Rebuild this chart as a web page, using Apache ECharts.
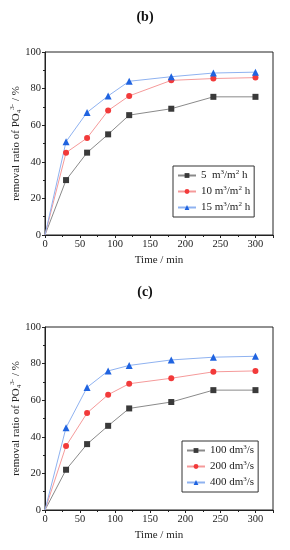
<!DOCTYPE html>
<html><head><meta charset="utf-8">
<script src="https://cdn.jsdelivr.net/npm/echarts@6/dist/echarts.min.js"></script>
<style>html,body{margin:0;padding:0;background:#fff}#c{width:290px;height:550px}</style>
</head><body><div id="c"></div>
<script>
var time = [0, 30, 60, 90, 120, 180, 240, 300];
var xTicks = [0, 50, 100, 150, 200, 250, 300];
var yTicks = [0, 20, 40, 60, 80, 100];
// panel (b)
var b5  = [0, 30, 45, 55, 65.5, 69, 75.5, 75.5];
var b10 = [0, 45, 53, 68, 76, 84.5, 85.5, 86];
var b15 = [0, 51, 67, 76, 84, 86.5, 88.5, 89];
var bNames = ['5  m{sup|3}/m{sup|2} h', '10 m{sup|3}/m{sup|2} h', '15 m{sup|3}/m{sup|2} h'];
// panel (c)
var c100 = [0, 22, 36, 46, 55.5, 59, 65.5, 65.5];
var c200 = [0, 35, 53, 63, 69, 72, 75.5, 76];
var c400 = [0, 45, 67, 76, 79, 82, 83.5, 84];
var cNames = ['100 dm{sup|3}/s', '200 dm{sup|3}/s', '400 dm{sup|3}/s'];

var FONT = 'Liberation Serif';
var markerCols = ['#3a3a3a', '#f23a3a', '#1f63e0'];
var lineCols = ['#8a8a8a', '#f59a9a', '#8fb2f0'];
var symbols = ['rect', 'circle', 'triangle'];

function pair(a, b) {
  return a.map(function (v, i) {
    var item = {value: [v, b[i]]};
    if (v === 0) item.symbolSize = 0;
    return item;
  });
}

var chart = echarts.init(document.getElementById('c'), null, {renderer: 'canvas'});

function xAxis(gi) {
  return {
    type: 'value', gridIndex: gi, min: 0, max: 325, interval: 50,
    name: 'Time / min', nameLocation: 'middle', nameGap: 20, nameMoveOverlap: false,
    nameTextStyle: {fontFamily: FONT, fontSize: 11, color: '#222'},
    axisLine: {show: true, lineStyle: {color: '#222', width: 1}},
    axisTick: {show: true, length: 3, lineStyle: {color: '#222'}},
    minorTick: {show: true, splitNumber: 2, length: 2, lineStyle: {color: '#222'}},
    axisLabel: {fontFamily: FONT, fontSize: 10.5, color: '#222', margin: 4, showMaxLabel: false,
      formatter: function (v) { return xTicks.indexOf(v) >= 0 ? String(v) : ''; }},
    splitLine: {show: false}
  };
}
function yAxis(gi) {
  return {
    type: 'value', gridIndex: gi, min: 0, max: 100, interval: 20,
    name: 'removal ratio of PO{sub|4}{sup|3-} / %', nameLocation: 'middle', nameGap: 22, nameMoveOverlap: false,
    nameTextStyle: {fontFamily: FONT, fontSize: 11, color: '#222', lineHeight: 14,
      rich: {
        sub: {fontFamily: FONT, fontSize: 7, verticalAlign: 'bottom', lineHeight: 14, color: '#222'},
        sup: {fontFamily: FONT, fontSize: 7, verticalAlign: 'top', lineHeight: 14, color: '#222'}
      }},
    axisLine: {show: true, lineStyle: {color: '#222', width: 1}},
    axisTick: {show: true, length: 3, lineStyle: {color: '#222'}},
    minorTick: {show: true, splitNumber: 2, length: 2, lineStyle: {color: '#222'}},
    axisLabel: {fontFamily: FONT, fontSize: 10.5, color: '#222', margin: 4,
      formatter: function (v) { return yTicks.indexOf(v) >= 0 ? String(v) : ''; }},
    splitLine: {show: false}
  };
}
function series(name, data, i, gi) {
  return {
    type: 'line', name: name, xAxisIndex: gi, yAxisIndex: gi,
    data: pair(time, data), symbol: symbols[i], symbolSize: i === 2 ? 7 : 6,
    itemStyle: {color: markerCols[i]},
    lineStyle: {color: lineCols[i], width: 1},
    animation: false
  };
}
var legendRich = {sup: {fontFamily: FONT, fontSize: 7, verticalAlign: 'top', lineHeight: 13, color: '#222'}};
function legend(names, left, top) {
  return {
    data: names, left: left, top: top, orient: 'vertical', itemGap: 3,
    itemWidth: 18, itemHeight: 6, padding: [3, 4, 3, 4],
    borderColor: '#333', borderWidth: 1,
    textStyle: {fontFamily: FONT, fontSize: 11, color: '#222', lineHeight: 13, rich: legendRich}
  };
}
function grid(top) {
  return {left: 45, top: top, width: 228, height: 183, containLabel: false, outerBoundsMode: 'none',
    show: true, borderColor: '#222', borderWidth: 1, backgroundColor: 'transparent'};
}

chart.setOption({
  backgroundColor: '#fff',
  title: [
    {text: '(b)', left: 'center', top: 5, textStyle: {fontFamily: FONT, fontSize: 14, fontWeight: 'bold', color: '#111'}},
    {text: '(c)', left: 'center', top: 280, textStyle: {fontFamily: FONT, fontSize: 14, fontWeight: 'bold', color: '#111'}}
  ],
  grid: [grid(52), grid(327)],
  xAxis: [xAxis(0), xAxis(1)],
  yAxis: [yAxis(0), yAxis(1)],
  legend: [legend(bNames, 173, 166), legend(cNames, 182, 441)],
  series: [
    series(bNames[0], b5, 0, 0), series(bNames[1], b10, 1, 0), series(bNames[2], b15, 2, 0),
    series(cNames[0], c100, 0, 1), series(cNames[1], c200, 1, 1), series(cNames[2], c400, 2, 1)
  ]
});
</script></body></html>
